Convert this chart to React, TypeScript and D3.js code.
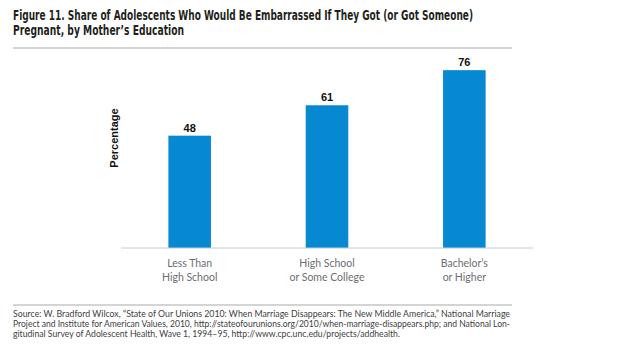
import React from "react";
import * as d3 from "d3";

const categories = ["Less Than\nHigh School", "High School\nor Some College", "Bachelor’s\nor Higher"];
const values = [48, 61, 76];

const titleLines = [
  "Figure 11. Share of Adolescents Who Would Be Embarrassed If They Got (or Got Someone)",
  "Pregnant, by Mother’s Education",
];
const sourceLines = [
  "Source: W. Bradford Wilcox, “State of Our Unions 2010: When Marriage Disappears: The New Middle America,” National Marriage",
  "Project and Institute for American Values, 2010, http://stateofourunions.org/2010/when-marriage-disappears.php; and National Lon-",
  "gitudinal Survey of Adolescent Health, Wave 1, 1994–95, http://www.cpc.unc.edu/projects/addhealth.",
];

const width = 640;
const height = 361;
const margin = { top: 14, left: 121, bottom: 113, right: 107 };

export default function App() {
  const x = d3
    .scaleBand<string>()
    .domain(categories)
    .range([margin.left, width - margin.right])
    .paddingInner(0.69)
    .paddingOuter(0.345);

  const y = d3
    .scaleLinear()
    .domain([0, 100])
    .range([height - margin.bottom, margin.top]);

  const base = y(0);
  const titleFont = "'Liberation Sans Narrow', 'DejaVu Sans Condensed', 'Roboto Condensed', sans-serif";

  return (
    <svg
      width={width}
      height={height}
      style={{ position: "absolute", left: 0, top: 0, background: "#fff" }}
    >
      {/* title */}
      <g fill="#231f20" fontFamily={titleFont} fontWeight="bold" fontSize={14}>
        <text x={13} y={20} textLength={460} lengthAdjust="spacingAndGlyphs">
          {titleLines[0]}
        </text>
        <text x={13} y={35} textLength={171} lengthAdjust="spacingAndGlyphs">
          {titleLines[1]}
        </text>
      </g>
      <line x1={13} x2={512} y1={48} y2={48} stroke="#a7a9ac" strokeWidth={1.2} />

      {/* y label */}
      <text
        transform={`translate(118,${138}) rotate(-90)`}
        textAnchor="middle"
        fontFamily="'Liberation Sans', Arial, sans-serif"
        fontWeight="bold"
        fontSize={11}
        fill="#111"
      >
        Percentage
      </text>

      {/* bars */}
      {categories.map((c, i) => (
        <g key={c}>
          <rect
            x={x(c)}
            y={y(values[i])}
            width={x.bandwidth()}
            height={base - y(values[i])}
            fill="#0789d1"
          />
          <text
            x={(x(c) ?? 0) + x.bandwidth() / 2}
            y={y(values[i]) - 4}
            textAnchor="middle"
            fontFamily="'Liberation Sans', Arial, sans-serif"
            fontWeight="bold"
            fontSize={11}
            fill="#111"
          >
            {values[i]}
          </text>
          {c.split("\n").map((line, j) => (
            <text
              key={j}
              x={(x(c) ?? 0) + x.bandwidth() / 2}
              y={base + 19 + j * 14}
              textAnchor="middle"
              fontFamily="Lato, 'Open Sans', sans-serif"
              fontSize={10.5}
              fill="#6d6e71"
            >
              {line}
            </text>
          ))}
        </g>
      ))}

      {/* baseline */}
      <line
        x1={margin.left}
        x2={width - margin.right}
        y1={base}
        y2={base}
        stroke="#c8cacc"
        strokeWidth={1}
      />

      {/* source */}
      <line x1={13} x2={512} y1={305} y2={305} stroke="#a7a9ac" strokeWidth={1} />
      <g fontFamily="Lato, 'Open Sans', sans-serif" fontSize={9.5} fill="#414042">
        {sourceLines.map((line, i) => (
          <text
            key={i}
            x={13}
            y={316.5 + i * 10.3}
            textLength={i < 2 ? 497 : 387}
            lengthAdjust="spacingAndGlyphs"
          >
            {line}
          </text>
        ))}
      </g>
    </svg>
  );
}
